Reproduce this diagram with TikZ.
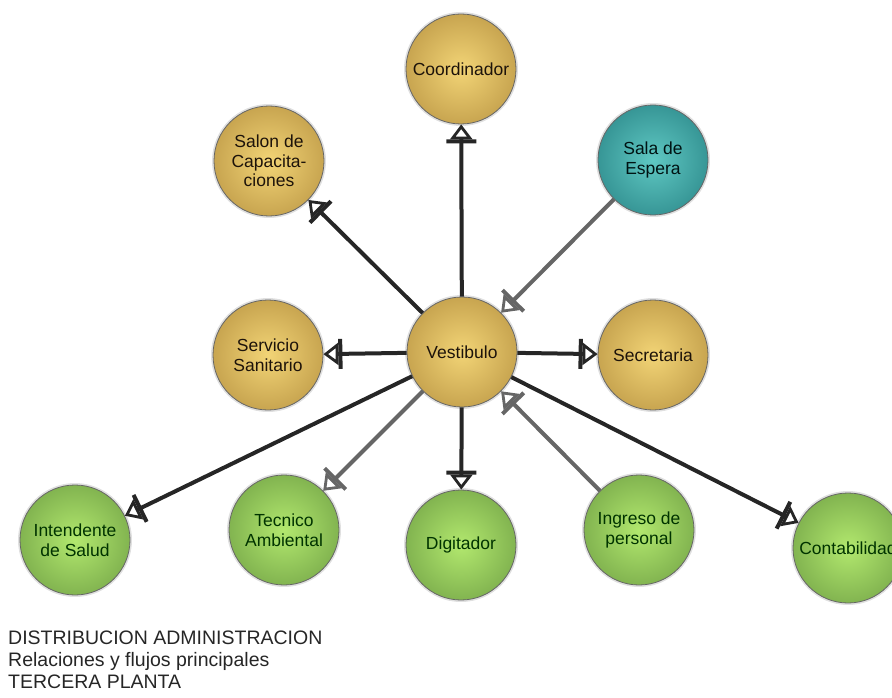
\documentclass[tikz,border=0pt]{standalone}
\usepackage{fontspec}
\setmainfont{Liberation Sans}
\usetikzlibrary{arrows.meta}

\definecolor{oro}{RGB}{200,165,80}
\definecolor{oroclaro}{RGB}{242,212,118}
\definecolor{turquesa}{RGB}{55,150,150}
\definecolor{turquesaclaro}{RGB}{95,200,195}
\definecolor{verde}{RGB}{130,180,80}
\definecolor{verdeclaro}{RGB}{178,232,110}

\begin{document}
\begin{tikzpicture}[x=1pt,y=-1pt,
    espacio/.style={circle, minimum size=110pt, inner sep=0pt, draw=black!60,
      line width=0.8pt, align=center, font=\fontsize{17.5}{19.5}\selectfont,
      preaction={draw=black!12, line width=4pt}},
    amarillo/.style={espacio, inner color=oroclaro, outer color=oro, text=black!85!brown},
    celeste/.style={espacio, inner color=turquesaclaro, outer color=turquesa, text=black!85!teal},
    verdoso/.style={espacio, inner color=verdeclaro, outer color=verde, text=black!80!green},
    flujo/.style={line width=4pt, draw=black!85,
      -{Bar[width=30pt,line width=4pt,sep=0pt] Triangle[open,length=15pt,width=22pt,line width=2.8pt]}},
    flujo claro/.style={flujo, draw=black!60}]
  \useasboundingbox (0,0) rectangle (892,698);

  % espacios de la planta
  \node[amarillo] (vest) at (462,352) {Vestibulo};
  \node[amarillo] (coord) at (461,69) {Coordinador};
  \node[amarillo] (salon) at (269,161) {Salon de\\Capacita-\\ciones};
  \node[celeste] (espera) at (653,160) {Sala de\\Espera};
  \node[amarillo] (sanit) at (268,355) {Servicio\\Sanitario};
  \node[amarillo] (secre) at (653,355) {Secretaria};
  \node[verdoso] (inten) at (75,540) {Intendente\\de Salud};
  \node[verdoso] (tecni) at (284,530) {Tecnico\\Ambiental};
  \node[verdoso] (digit) at (461,545) {Digitador};
  \node[verdoso] (ingre) at (639,530) {Ingreso de\\personal};
  \node[verdoso] (conta) at (848,548) {Contabilidad};

  % flujos desde el vestibulo
  \foreach \n in {coord,salon,sanit,secre,inten,digit,conta}
    \draw[flujo] (vest) -- (\n);
  \draw[flujo claro] (vest) -- (tecni);
  % flujos hacia el vestibulo
  \draw[flujo claro] (espera) -- (vest);
  \draw[flujo claro] (ingre) -- (vest);

  \node[anchor=north west, align=left, inner sep=0pt, text=black!85,
    font=\fontsize{19.5}{21.7}\selectfont] (titulo) at (8,631)
    {DISTRIBUCION ADMINISTRACION\\Relaciones y flujos principales\\TERCERA PLANTA};
\end{tikzpicture}
\end{document}
